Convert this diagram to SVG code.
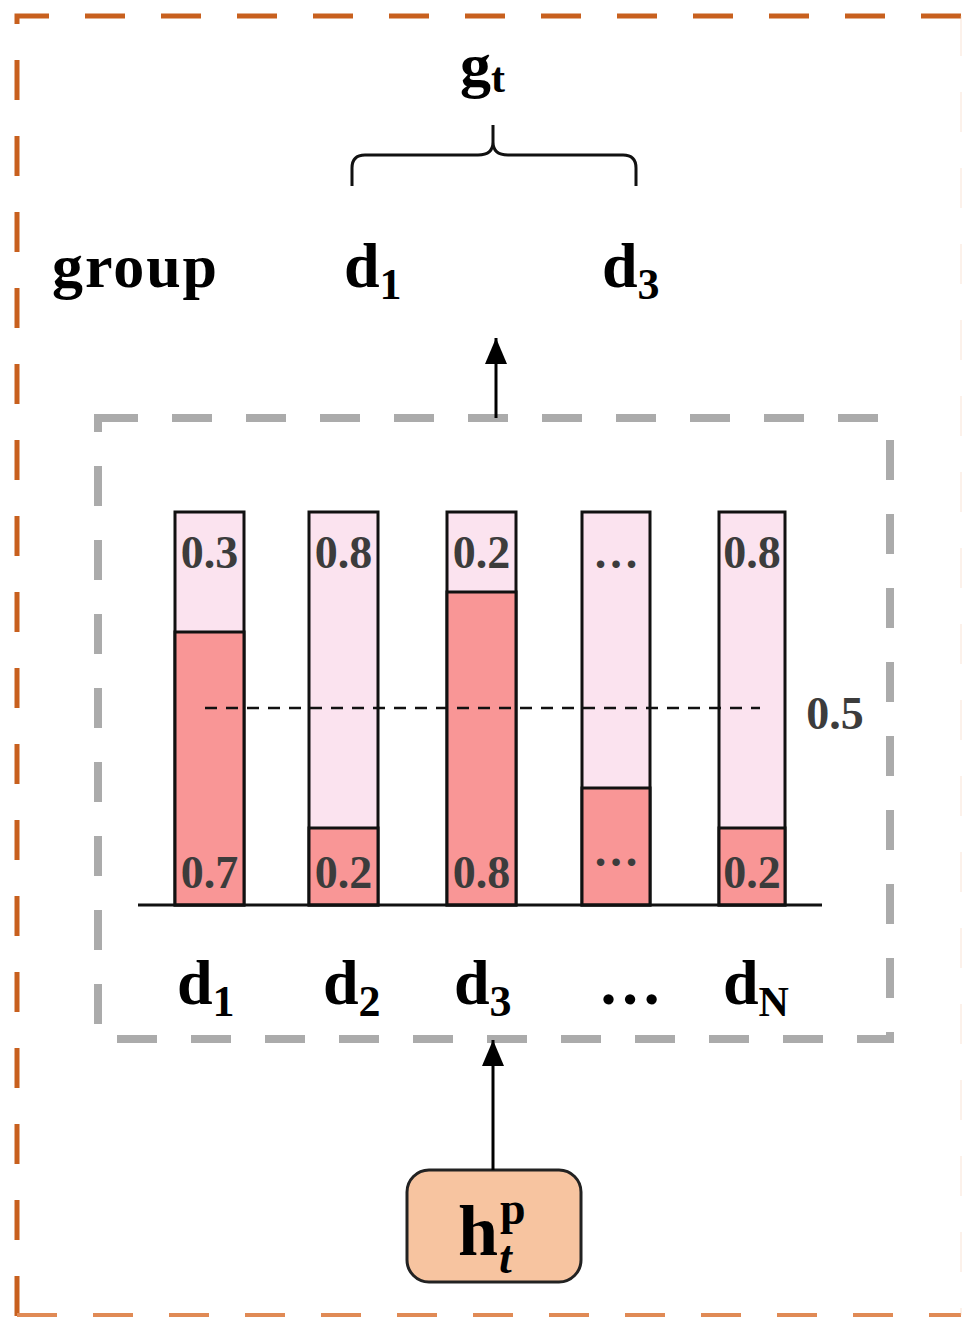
<svg xmlns="http://www.w3.org/2000/svg" width="963" height="1318" viewBox="0 0 963 1318">
  <defs>
    <marker id="ah" markerWidth="26" markerHeight="22" refX="10" refY="5" orient="auto" markerUnits="userSpaceOnUse" viewBox="0 0 10 10" preserveAspectRatio="none">
      <path d="M0,0 L10,5 L0,10 z" fill="#000"/>
    </marker>
    <style>
      .lbl { font-family: "Liberation Serif", "Times New Roman", serif; font-weight: bold; fill: #000; }
      .val { font-family: "Liberation Serif", "Times New Roman", serif; font-weight: bold; fill: #3c3c3c; font-size: 46px; text-anchor: middle; }
      .lo { fill: #fbe3ef; stroke: #111; stroke-width: 3; }
      .hi { fill: #f99696; stroke: #111; stroke-width: 3; }
    </style>
  </defs>
  <rect width="963" height="1318" fill="#fff"/>

  <!-- outer orange dashed frame -->
  <g id="outer-frame" fill="none">
    <path d="M17,1316 L17,16 L962,16" stroke="#c8601e" stroke-width="5" stroke-dasharray="40 36"/>
    <path d="M17,1315 L961,1315" stroke="#e08a55" stroke-width="4" stroke-dasharray="40 36"/>
    <path d="M961,16 L961,1315" stroke="#f2c9ad" stroke-width="2" stroke-dasharray="40 36" opacity="0.25"/>
  </g>

  <!-- inner gray dashed box -->
  <g id="score-box">
    <rect x="98" y="418" width="792" height="621" fill="none" stroke="#ababab" stroke-width="8" stroke-dasharray="40 34"/>
  </g>

  <!-- title g_t and brace -->
  <g id="gt">
    <text class="lbl" x="460" y="86" font-size="62">g<tspan font-size="42" dy="6">t</tspan></text>
    <path d="M352,186 L352,168 Q352,155 365,155 L478,155 Q493,155 493,142 L493,125 M493,142 Q493,155 508,155 L623,155 Q636,155 636,168 L636,186" fill="none" stroke="#111" stroke-width="3"/>
  </g>

  <g id="group-row">
    <text class="lbl" x="52" y="287" font-size="62" textLength="165" lengthAdjust="spacing">group</text>
    <text class="lbl" x="344" y="287" font-size="64">d<tspan font-size="44" dy="12">1</tspan></text>
    <text class="lbl" x="602" y="287" font-size="64">d<tspan font-size="44" dy="12">3</tspan></text>
  </g>

  <!-- bars -->
  <g id="bar-d1">
    <rect class="lo" x="175" y="512" width="69" height="393"/>
    <rect class="hi" x="175" y="632" width="69" height="273"/>
    <text class="val" x="209.5" y="568">0.3</text>
    <text class="val" x="209.5" y="888">0.7</text>
  </g>
  <g id="bar-d2">
    <rect class="lo" x="309" y="512" width="69" height="393"/>
    <rect class="hi" x="309" y="828" width="69" height="77"/>
    <text class="val" x="343.5" y="568">0.8</text>
    <text class="val" x="343.5" y="888">0.2</text>
  </g>
  <g id="bar-d3">
    <rect class="lo" x="447" y="512" width="69" height="393"/>
    <rect class="hi" x="447" y="592" width="69" height="313"/>
    <text class="val" x="481.5" y="568">0.2</text>
    <text class="val" x="481.5" y="888">0.8</text>
  </g>
  <g id="bar-dots">
    <rect class="lo" x="582" y="512" width="68" height="393"/>
    <rect class="hi" x="582" y="788" width="68" height="117"/>
    <text class="val" x="616" y="568" font-size="38">…</text>
    <text class="val" x="616" y="866" font-size="38">…</text>
  </g>
  <g id="bar-dN">
    <rect class="lo" x="719" y="512" width="66" height="393"/>
    <rect class="hi" x="719" y="828" width="66" height="77"/>
    <text class="val" x="752" y="568">0.8</text>
    <text class="val" x="752" y="888">0.2</text>
  </g>

  <g id="axis">
    <line x1="138" y1="905" x2="822" y2="905" stroke="#111" stroke-width="3"/>
    <line x1="205" y1="708" x2="760" y2="708" stroke="#111" stroke-width="2.5" stroke-dasharray="12 9"/>
    <text class="val" x="835" y="729" font-size="42">0.5</text>
  </g>

  <g id="doc-labels">
    <text class="lbl" x="177" y="1004" font-size="64">d<tspan font-size="44" dy="12">1</tspan></text>
    <text class="lbl" x="323" y="1004" font-size="64">d<tspan font-size="44" dy="12">2</tspan></text>
    <text class="lbl" x="454" y="1004" font-size="64">d<tspan font-size="44" dy="12">3</tspan></text>
    <text class="lbl" x="598" y="1004" font-size="64">…</text>
    <text class="lbl" x="723" y="1004" font-size="64">d<tspan font-size="42" dy="12">N</tspan></text>
  </g>

  <!-- input node -->
  <g id="h-node">
    <rect x="407" y="1170" width="174" height="112" rx="22" fill="#f7c4a0" stroke="#222" stroke-width="3"/>
    <text class="lbl" x="458" y="1255" font-size="72">h</text>
    <text class="lbl" x="500" y="1224" font-size="46">p</text>
    <text class="lbl" x="499" y="1273" font-size="46" font-style="italic">t</text>
  </g>

  <!-- connectors -->
  <g id="connectors" stroke="#000" stroke-width="3" fill="none">
    <line x1="493" y1="1170" x2="493" y2="1040" marker-end="url(#ah)"/>
    <line x1="496" y1="418" x2="496" y2="338" marker-end="url(#ah)"/>
  </g>
</svg>
